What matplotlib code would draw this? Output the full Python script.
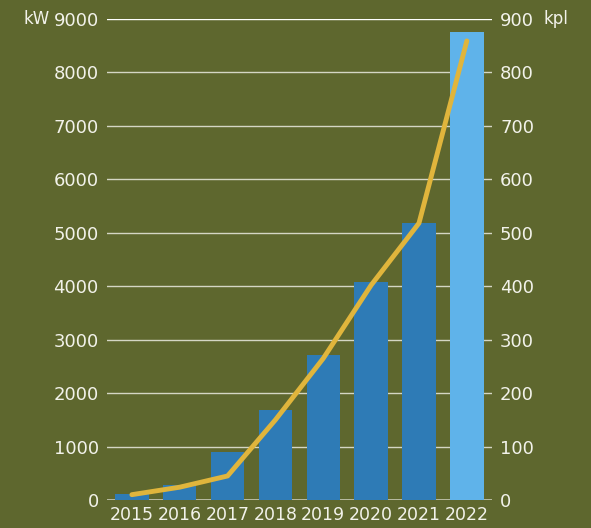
import matplotlib.pyplot as plt
import numpy as np

years = ["2015", "2016", "2017", "2018", "2019", "2020", "2021", "2022"]
power_kw = [110, 280, 900, 1690, 2715, 4080, 5185, 8760]
count_kpl = [10, 24, 45, 150, 265, 402, 518, 859]

bg = "#5e672e"
txt = "#f2f2ea"
bar_colors = ["#2e7bb6"] * 7 + ["#5fb3ea"]

fig = plt.figure(figsize=(5.91, 5.28), dpi=100, facecolor=bg)
ax = fig.add_axes([0.181, 0.053, 0.651, 0.911])
ax.set_facecolor(bg)

x = np.arange(len(years))
ax.set_ylim(0, 9000)
ax.set_xlim(-0.52, 7.52)
ax.set_yticks(range(0, 9001, 1000))
for v in range(1000, 9001, 1000):
    ax.axhline(v, color="#ffffff" if v == 9000 else "#d4d6c4", lw=1, zorder=1)
ax.axhline(0, color="#c8cab8", lw=1.2, zorder=1)
ax.bar(x, power_kw, width=0.7, color=bar_colors, zorder=2)

ax.set_xticks(x)
ax.set_xticklabels(years)
ax.tick_params(axis="x", length=0, pad=4, labelsize=12.5, colors=txt)
ax.tick_params(axis="y", length=0, pad=6, labelsize=13, colors=txt)
for s in ax.spines.values():
    s.set_visible(False)

ax2 = ax.twinx()
ax2.set_ylim(0, 900)
ax2.set_yticks(range(0, 901, 100))
ax2.plot(x, count_kpl, color="#e0b53c", lw=3.5, solid_capstyle="round", zorder=3)
ax2.tick_params(axis="y", length=0, pad=6, labelsize=13, colors=txt)
for s in ax2.spines.values():
    s.set_visible(False)

fig.text(0.062, 0.964, "kW", color=txt, fontsize=12, ha="center", va="center")
fig.text(0.94, 0.964, "kpl", color=txt, fontsize=12, ha="center", va="center")

fig.savefig("out.png", dpi=100, facecolor=bg)
